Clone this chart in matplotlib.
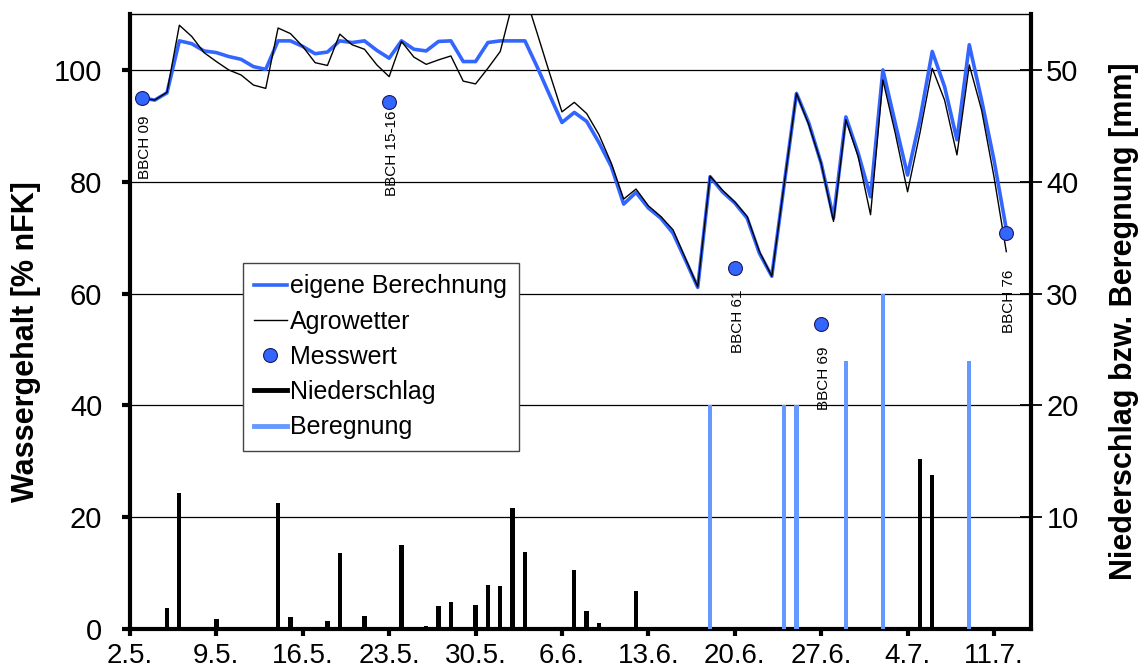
import numpy as np
import matplotlib
matplotlib.use("Agg")
import matplotlib.pyplot as plt
from matplotlib.lines import Line2D

plt.rcParams['font.family'] = ['Liberation Sans', 'DejaVu Sans']

# x axis: days counted from 2.5.
tick_days = [0, 7, 14, 21, 28, 35, 42, 49, 56, 63, 70]
tick_labels = ["2.5.", "9.5.", "16.5.", "23.5.", "30.5.", "6.6.",
               "13.6.", "20.6.", "27.6.", "4.7.", "11.7."]

# Wassergehalt [% nFK], daily from 3.5. (day 1) to 12.7. (day 71)
line_days = list(range(1, 72))
calc_values = [
    95.0, 94.6, 95.9, 105.2, 104.7, 103.4, 103.1, 102.4, 101.9, 100.6,
    100.1, 105.2, 105.2, 104.2, 102.9, 103.2, 105.2, 104.9, 105.2, 103.5,
    102.1, 105.2, 103.7, 103.4, 105.1, 105.2, 101.5, 101.5, 104.9, 105.2,
    105.2, 105.2, 100.5, 95.5, 90.6, 92.4, 90.8, 87.0, 82.7, 76.0,
    78.1, 75.3, 73.5, 70.8, 66.0, 61.1, 80.9, 78.2, 76.2, 73.5,
    67.2, 63.1, 79.5, 95.8, 90.5, 83.3, 73.5, 91.6, 85.1, 77.3,
    100.0, 90.5, 81.2, 91.1, 103.3, 97.0, 87.5, 104.5, 94.6, 83.9,
    71.5,
]
agro_values = [
    95.0, 94.6, 96.0, 108.0, 106.0, 103.1, 101.5, 100.0, 99.1, 97.3,
    96.7, 107.5, 106.5, 104.2, 101.3, 100.8, 106.4, 104.5, 103.7, 100.9,
    98.8, 105.1, 102.3, 101.0, 101.8, 102.5, 98.0, 97.5, 100.3, 103.3,
    112.0, 113.5, 106.5, 99.4, 92.5, 94.2, 92.2, 88.4, 83.3, 76.9,
    78.7, 75.7, 73.8, 71.4, 66.3, 61.2, 81.0, 78.5, 76.4, 73.8,
    67.5, 63.1, 79.5, 95.8, 90.2, 83.3, 72.9, 91.1, 84.5, 74.1,
    98.2, 88.7, 78.2, 88.7, 100.3, 94.6, 84.8, 100.9, 92.8, 80.9,
    67.5,
]

# Messwerte with growth stage
meas_days = [1, 21, 49, 56, 71]
meas_values = [95.0, 94.3, 64.5, 54.5, 70.8]
meas_labels = ["BBCH 09", "BBCH 15-16", "BBCH 61", "BBCH 69", "BBCH 76"]
label_offsets = [-13, -6.5, -15, -16, -26]  # points below the dot

# Niederschlag [mm]
rain_days = [2, 3, 4, 7, 12, 13, 16, 17, 19, 22, 24, 25, 26, 28, 29, 30,
             31, 32, 36, 37, 38, 41, 64, 65]
rain_mm = [0.2, 1.9, 12.2, 0.9, 11.3, 1.05, 0.7, 6.8, 1.15, 7.5, 0.25, 2.05,
           2.45, 2.15, 3.9, 3.85, 10.85, 6.85, 5.3, 1.65, 0.55, 3.4, 15.2, 13.8]

# Beregnung [mm]
irr_days = [47, 53, 54, 58, 61, 68]
irr_mm = [20, 20, 20, 24, 30, 24]

BLUE = '#3366FF'
LIGHT_BLUE = '#6699FF'

fig = plt.figure(figsize=(11.42, 6.71), dpi=100)
ax = fig.add_axes([0.1138, 0.0626, 0.789, 0.9165])
ax2 = ax.twinx()

ax.set_xlim(0, 73)
ax.set_ylim(0, 110)
ax2.set_ylim(0, 55)

# horizontal grid
for v in [20, 40, 60, 80, 100]:
    ax.axhline(v, color='black', lw=0.9, zorder=0)

ax.plot(line_days, calc_values, color=BLUE, lw=2.6, zorder=3)
ax.plot(line_days, agro_values, color='black', lw=1.0, zorder=4)
ax.plot(meas_days, meas_values, 'o', ms=10, mfc=BLUE, mec='#1a1a66',
        mew=0.8, zorder=5, clip_on=False)

for d, v, lab, off in zip(meas_days, meas_values, meas_labels, label_offsets):
    ax.annotate(lab, xy=(d, v), xytext=(2, off), textcoords='offset points',
                rotation=90, ha='center', va='top', fontsize=11)

ax2.bar(rain_days, rain_mm, width=0.35, color='black', zorder=2)
ax2.bar(irr_days, irr_mm, width=0.35, color=LIGHT_BLUE, zorder=2)

# ticks
ax.set_xticks(tick_days)
ax.set_xticklabels(tick_labels)
ax.set_yticks([0, 20, 40, 60, 80, 100])
ax2.set_yticks([10, 20, 30, 40, 50])
ax.tick_params(axis='x', direction='out', length=5, width=3, labelsize=20, pad=5)
ax.tick_params(axis='y', direction='out', length=6, width=3, labelsize=21, pad=14)
ax2.tick_params(axis='y', direction='inout', length=16, width=1.3, labelsize=21, pad=3)

# spines
ax.spines['left'].set_linewidth(3)
ax.spines['bottom'].set_linewidth(3)
ax.spines['top'].set_linewidth(1)
ax.spines['right'].set_visible(False)
for s in ['left', 'bottom', 'top']:
    ax2.spines[s].set_visible(False)
ax2.spines['right'].set_linewidth(3)

fig.text(26 / 1142, 1 - 342 / 671, "Wassergehalt [% nFK]", rotation=90,
         ha='center', va='center', fontsize=22, fontweight='bold')
fig.text(1124 / 1142, 1 - 321 / 671, "Niederschlag bzw. Beregnung [mm]",
         rotation=90, ha='center', va='center', fontsize=22, fontweight='bold')

handles = [
    Line2D([], [], color=BLUE, lw=2.6, label='eigene Berechnung'),
    Line2D([], [], color='black', lw=1.0, label='Agrowetter'),
    Line2D([], [], ls='none', marker='o', ms=10, mfc=BLUE, mec='#1a1a66',
           mew=0.8, label='Messwert'),
    Line2D([], [], color='black', lw=3.5, label='Niederschlag'),
    Line2D([], [], color=LIGHT_BLUE, lw=3.5, label='Beregnung'),
]
leg = ax2.legend(handles=handles, loc='upper left', bbox_to_anchor=(0.1254, 0.595),
                 borderaxespad=0, fontsize=18, fancybox=False, framealpha=1,
                 edgecolor='#444444', borderpad=0.45, labelspacing=0.45,
                 handlelength=1.3, handletextpad=0.15, numpoints=1)
leg.get_frame().set_linewidth(1.0)

fig.savefig("out.png", dpi=100)
